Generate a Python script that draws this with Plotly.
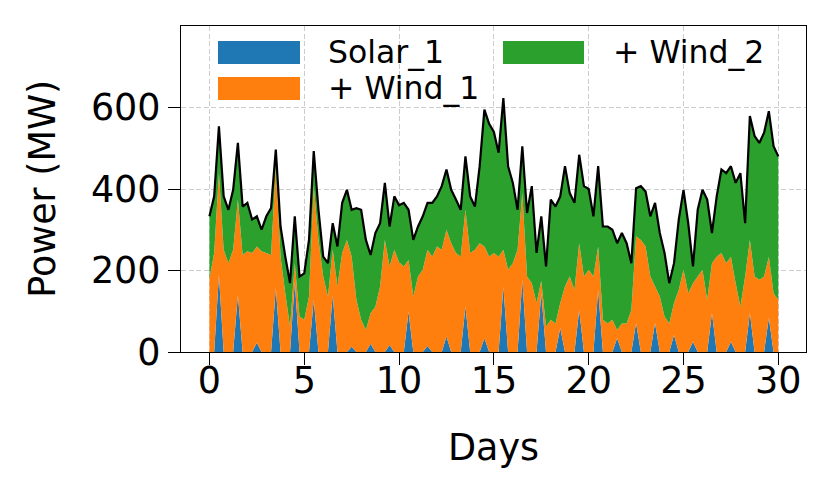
import numpy as np
import plotly.graph_objects as go

# 6-hourly samples over 30 days (MW)
days = np.arange(121) * 0.25

solar_1 = [
    0, 0, 189, 0,  0, 0, 140, 0,  0, 0, 23, 0,  0, 0, 157, 0,  0, 0, 173, 0,
    0, 0, 128, 0,  0, 0, 140, 0,  0, 0, 13, 0,  0, 0, 20, 0,  0, 0, 17, 0,
    0, 0, 99, 0,  0, 0, 15, 0,  0, 0, 38, 0,  0, 0, 111, 0,  0, 0, 34, 0,
    0, 0, 160, 0,  0, 0, 177, 0,  0, 0, 145, 0,  0, 0, 59, 0,  0, 0, 103, 0,
    0, 0, 152, 0,  0, 0, 34, 0,  0, 0, 71, 0,  0, 0, 71, 0,  0, 0, 42, 0,
    0, 0, 25, 0,  0, 0, 96, 0,  0, 0, 25, 0,  0, 0, 96, 0,  0, 0, 84, 0,
    0,
]
wind_1 = [
    180, 243, 250, 251,  218, 251, 234, 238,  247, 243, 236, 247,  243, 238, 299, 234,
    144, 62, 45, 87,  79, 136, 279, 275,  185, 136, 111, 161,  243, 275, 221, 128,
    79, 54, 75, 111,  161, 275, 193, 251,  220, 210, 127, 136,  185, 202, 236, 234,
    259, 251, 262, 267,  243, 234, 238, 243,  251, 267, 225, 234,  243, 234, 91, 202,
    218, 251, 213, 185,  169, 120, 30, 62,  79, 70, 61, 161,  185, 152, 164, 185,
    202, 185, 107, 79,  70, 79, 20, 70,  70, 103, 213, 275,  259, 185, 90, 136,
    87, 70, 78, 152,  202, 144, 144, 185,  202, 128, 122, 234,  243, 218, 209, 169,
    111, 185, 179, 185,  177, 185, 150, 144,  128,
]
wind_2 = [
    153, 139, 115, 131,  131, 147, 139, 119,  119, 82, 74, 53,  90, 115, 41, 74,
    90, 107, 115, 98,  114, 139, 86, 74,  49, 82, 65, 98,  123, 123, 115, 225,
    270, 221, 143, 181,  155, 140, 98, 131,  140, 156, 123, 139,  123, 131, 115, 132,
    123, 156, 148, 131,  131, 115, 131, 139,  106, 189, 336, 326,  297, 255, 372, 254,
    197, 98, 115, 156,  238, 123, 158, 148,  295, 287, 262, 295,  205, 214, 217, 222,
    198, 148, 197, 229,  238, 221, 213, 222,  197, 115, 118, 132,  135, 148, 205, 156,
    156, 99, 98, 173,  196, 172, 41, 164,  196, 246, 74, 148,  205, 221, 222, 246,
    328, 131, 304, 345,  336, 353, 357, 361,  352,
]

names = ['Solar_1', '+ Wind_1', '+ Wind_2']
colors = ['#1f77b4', '#ff7f0e', '#2ca02c']

fig = go.Figure()
for vals, name, c in zip([solar_1, wind_1, wind_2], names, colors):
    fig.add_trace(go.Scatter(
        x=days, y=vals, name=name, mode='lines', stackgroup='one',
        line=dict(width=0, color=c), fillcolor=c, showlegend=False,
    ))

total = np.array(solar_1) + np.array(wind_1) + np.array(wind_2)
fig.add_trace(go.Scatter(
    x=days, y=total, mode='lines', line=dict(color='black', width=2.2),
    showlegend=False,
))

# page has an 8px body margin, so the figure is 8px smaller and shifted
OFF = 8
left, right, top, bottom = 181, 806, 26, 352.5   # plot box in the screenshot
W, H = right - left, bottom - top


def px(x):
    return (x - left) / W


def py(y):
    return (bottom - y) / H


# legend drawn by hand: matplotlib style, two columns, no frame
legend_items = [
    (218, 300, 41, 64, 326, names[0], colors[0]),
    (218, 300, 77, 100, 326, names[1], colors[1]),
    (503, 584, 41, 64, 611, names[2], colors[2]),
]
for x0, x1, y0, y1, tx, label, c in legend_items:
    fig.add_shape(type='rect', xref='paper', yref='paper',
                  x0=px(x0), x1=px(x1), y0=py(y1), y1=py(y0),
                  fillcolor=c, line=dict(width=0))
    fig.add_annotation(xref='paper', yref='paper', x=px(tx), y=py((y0 + y1) / 2),
                       text=label, showarrow=False, xanchor='left', yanchor='middle',
                       font=dict(size=31.5, color='black'))

# axis titles
fig.add_annotation(xref='paper', yref='paper', x=px(493.5), y=py(448),
                   text='Days', showarrow=False, xanchor='center', yanchor='middle',
                   font=dict(size=36.5, color='black'))
fig.add_annotation(xref='paper', yref='paper', x=px(43), y=py(189),
                   text='Power (MW)', textangle=-90, showarrow=False,
                   xanchor='center', yanchor='middle',
                   font=dict(size=36.5, color='black'))

axis_style = dict(
    showline=True, linecolor='black', linewidth=1.3, mirror=True,
    ticks='outside', ticklen=12, tickwidth=1.3, tickcolor='black',
    showgrid=True, gridcolor='#cccccc', gridwidth=1, griddash='5px,2.5px',
    zeroline=False, tickfont=dict(size=36.5, color='black'), automargin=False,
)

fig.update_layout(
    width=831 - OFF, height=496 - OFF,
    margin=dict(l=left - OFF, r=831 - right, t=top - OFF, b=496 - bottom, pad=0),
    plot_bgcolor='white', paper_bgcolor='white',
    font=dict(family='DejaVu Sans', color='black'),
    xaxis=dict(range=[-1.5, 31.46], tickvals=[0, 5, 10, 15, 20, 25, 30],
               ticklabelstandoff=-16, **axis_style),
    yaxis=dict(range=[0, 800], tickvals=[0, 200, 400, 600], **axis_style),
)

fig.write_html('out.html')
